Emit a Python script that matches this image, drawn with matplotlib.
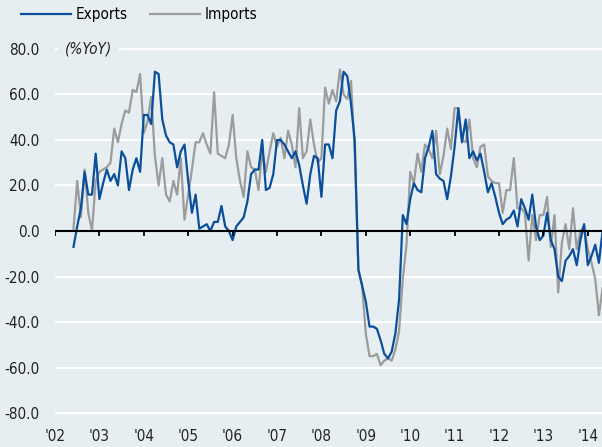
import numpy as np
import pandas as pd
import matplotlib
matplotlib.use("Agg")
import matplotlib.pyplot as plt
from matplotlib import font_manager

names = {f.name for f in font_manager.fontManager.ttflist}
fam = "Liberation Sans Narrow" if "Liberation Sans Narrow" in names else "DejaVu Sans"
plt.rcParams["font.family"] = [fam, "DejaVu Sans"]
plt.rcParams["font.stretch"] = "condensed"
plt.rcParams["axes.unicode_minus"] = False

# monthly YoY %, Jun 2002 .. May 2014
exports = [
    -7, 2, 10, 26, 16, 16, 34,                          # 2002
    14, 21, 27, 22, 25, 20, 35, 32, 18, 27, 32, 26,     # 2003
    51, 51, 47, 70, 69, 49, 42, 39, 38, 28, 35, 38,     # 2004
    22, 8, 16, 1, 2, 3, 0, 4, 4, 11, 2, 0,              # 2005
    -4, 2, 4, 6, 13, 25, 27, 27, 40, 18, 19, 25,        # 2006
    40, 40, 38, 35, 32, 35, 29, 20, 12, 25, 33, 32,     # 2007
    15, 38, 38, 32, 53, 57, 70, 68, 56, 40, -17, -24,   # 2008
    -31, -42, -42, -43, -48, -54, -56, -53, -45, -30, 7, 3,  # 2009
    14, 21, 18, 17, 32, 37, 44, 25, 23, 22, 14, 24,     # 2010
    37, 54, 39, 49, 32, 35, 31, 34, 26, 17, 21, 15,     # 2011
    8, 3, 5, 6, 9, 2, 14, 10, 5, 16, 2, -4,             # 2012
    -2, 8, -4, -8, -20, -22, -13, -11, -8, -15, -4, 3,  # 2013
    -15, -11, -6, -14, 0,                               # 2014
]
imports = [
    1, 22, 6, 27, 8, 0, 22,
    26, 27, 28, 30, 45, 39, 47, 53, 52, 62, 61, 69,
    43, 48, 59, 33, 20, 32, 16, 13, 22, 16, 32, 5,
    16, 27, 39, 39, 43, 38, 34, 61, 34, 33, 32, 38,
    51, 32, 22, 15, 35, 28, 27, 18, 35, 26, 35, 43,
    37, 41, 32, 44, 38, 28, 54, 32, 35, 49, 38, 30,
    32, 63, 56, 62, 57, 71, 60, 58, 66, 35, -17, -24,
    -45, -55, -55, -54, -59, -57, -56, -57, -52, -44, -21, -6,
    26, 21, 34, 26, 38, 36, 32, 44, 25, 33, 45, 36,
    54, 54, 40, 39, 49, 32, 28, 37, 38, 24, 22, 21,
    21, 8, 18, 18, 32, 10, 10, 8, -13, 7, -4, 7,
    7, 15, -7, 7, -27, -5, 3, -8, 10, -8, 0, 2,
    -8, -14, -21, -37, -25,
]
years = list(range(2002, 2015))
year_labels = ["'%02d" % (y % 100) for y in years]
yticks = list(range(-80, 81, 20))

months = pd.date_range("2002-06-01", periods=len(exports), freq="MS")
x = months.year + (months.month - 1) / 12.0

bg = "#e6eef1"
blue = "#0a4f9c"
grey = "#9c9c9c"
fs = 11

fig = plt.figure(figsize=(6.02, 4.47), dpi=100, facecolor=bg)
ax = fig.add_axes([55/602, 1-415.3/447, 547/602, (415.3-46.7)/447])
ax.set_facecolor(bg)
for s in ax.spines.values():
    s.set_visible(False)

ax.set_xlim(2002, 2002 + 547/44.4)
ax.set_ylim(-81, 81)

for y in yticks:
    if y != 0:
        ax.axhline(y, color="white", lw=1.6, zorder=1)
ax.axhline(0, color="black", lw=1.5, zorder=4)
ax.vlines(years, -2.3, 0, color="black", lw=1.3, zorder=4)

ax.plot(x, exports, color=blue, lw=1.6, label="Exports", zorder=3)
ax.plot(x, imports, color=grey, lw=1.6, label="Imports", zorder=2)

ax.set_yticks(yticks)
ax.set_yticklabels(["%.1f" % y for y in yticks])
ax.set_xticks(years)
ax.set_xticklabels(year_labels)
ax.tick_params(axis="y", length=0, pad=11, labelsize=fs, colors="#222222")
ax.tick_params(axis="x", length=0, pad=10, labelsize=fs, colors="#222222")

ax.text(0.018, 80, "(%YoY)", transform=ax.get_yaxis_transform(), fontsize=fs,
        style="italic", va="center", ha="left", color="#222222", zorder=5,
        bbox=dict(facecolor=bg, edgecolor="none", pad=5))

fig.legend(loc="center left", bbox_to_anchor=(21/602, 1-15/447), ncol=2,
           frameon=False, fontsize=fs, borderpad=0, borderaxespad=0,
           handlelength=3.3, handletextpad=0.3, columnspacing=1.4)

fig.savefig("out.png", dpi=100, facecolor=bg)
